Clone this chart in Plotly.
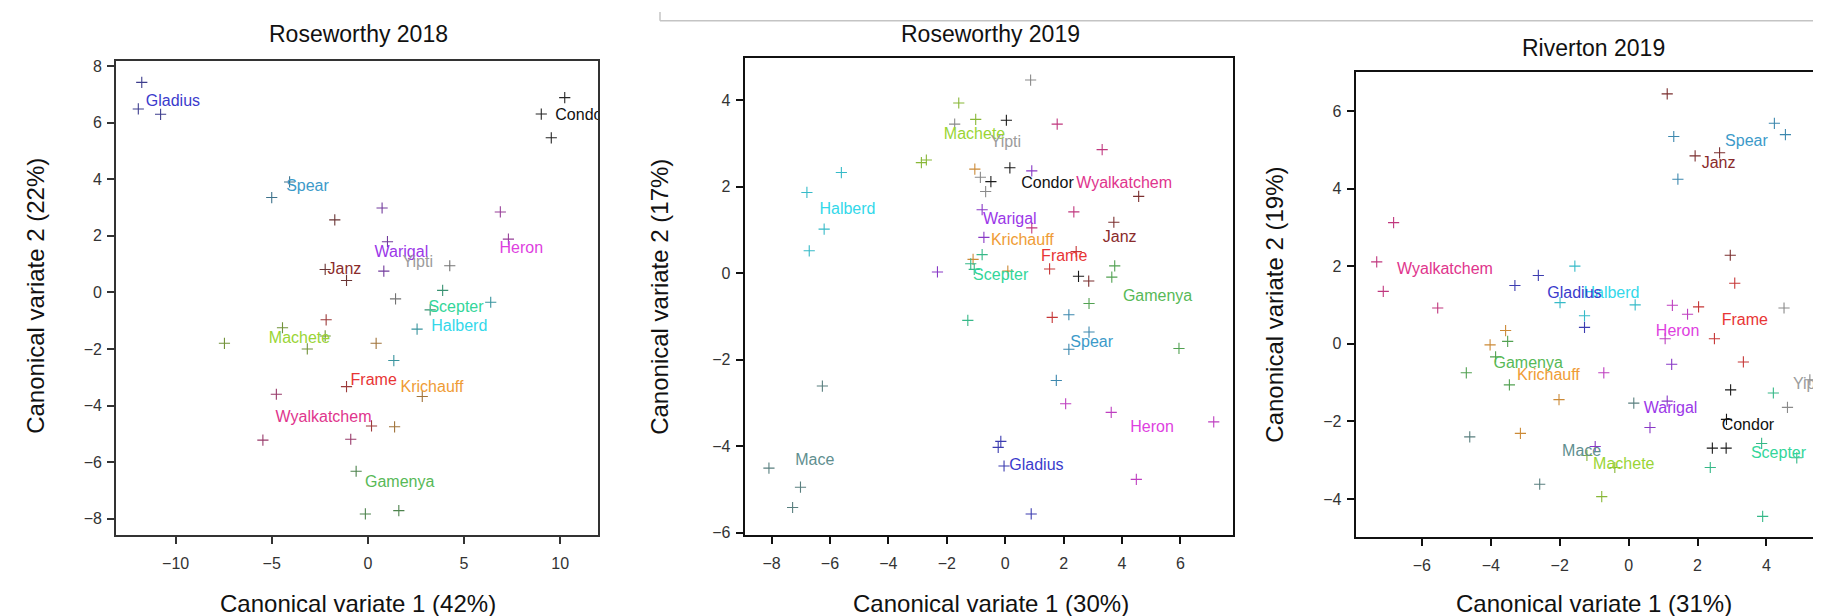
import plotly.graph_objects as go

W, H = 1821, 616
FONT = "Liberation Sans, Arial, Helvetica, sans-serif"

COLORS = {
    "Gladius": "#3b3bcc", "Condor": "#111111", "Spear": "#3c9ac9", "Heron": "#de3fe0",
    "Warigal": "#9b37e8", "Yipti": "#9c9c9c", "Janz": "#8a2b2b", "Scepter": "#33d69a",
    "Halberd": "#33d8ea", "Machete": "#9ad535", "Frame": "#e83535", "Krichauff": "#ef9c35",
    "Wyalkatchem": "#e0358d", "Gamenya": "#57b957", "Mace": "#5f8f8f",
}

# ---------------- Roseworthy 2018 ----------------
p1_x = [-11.76, -11.94, -10.78, 10.24, 9.02, 9.54, -5.00, -4.07, -1.72, 0.74, 6.89, 1.02, 7.31,
        -2.22, -1.11, 0.83, 4.26, 3.89, 1.44, 6.39, 3.24, -2.17, -4.44, 2.56, -2.22, -7.46, 0.43,
        -3.15, 1.35, -1.11, -4.76, 2.83, 0.19, 1.39, -5.46, -0.89, -0.61, -0.13, 1.61]
p1_y = [7.42, 6.48, 6.29, 6.88, 6.30, 5.46, 3.35, 3.90, 2.56, 2.98, 2.84, 1.79, 1.88,
        0.81, 0.42, 0.75, 0.94, 0.07, -0.23, -0.35, -0.62, -0.97, -1.25, -1.30, -1.54, -1.80, -1.80,
        -2.00, -2.41, -3.33, -3.60, -3.68, -4.72, -4.75, -5.22, -5.19, -6.32, -7.83, -7.71]
p1_g = ["Gladius", "Gladius", "Gladius", "Condor", "Condor", "Condor", "Spear", "Spear", "Janz",
        "Warigal", "Heron", "Warigal", "Heron", "Janz", "Janz", "Warigal", "Yipti", "Scepter",
        "Yipti", "Halberd", "Scepter", "Frame", "Machete", "Halberd", "Machete", "Machete",
        "Krichauff", "Machete", "Halberd", "Frame", "Wyalkatchem", "Krichauff", "Frame",
        "Krichauff", "Wyalkatchem", "Wyalkatchem", "Gamenya", "Gamenya", "Gamenya"]
p1_lab = ["Gladius", "Condor", "Spear", "Heron", "Warigal", "Yipti", "Janz", "Scepter", "Halberd",
          "Machete", "Frame", "Krichauff", "Wyalkatchem", "Gamenya"]
p1_lab_x = [-11.55, 9.75, -4.25, 6.85, 0.35, 1.80, -2.10, 3.15, 3.30, -5.15, -0.90, 1.70, -4.80, -0.15]
p1_lab_y = [6.73, 6.24, 3.71, 1.54, 1.39, 1.02, 0.79, -0.54, -1.23, -1.66, -3.14, -3.39, -4.43, -6.75]

# ---------------- Roseworthy 2019 ----------------
p2_x = [-0.15, -0.24, -0.04, 0.89, -6.26, -8.09, -7.01, -7.28, 2.07, 3.63, 7.14, 4.49,
        -5.61, -6.79, -6.20, -6.71, -1.59, -1.01, -2.87, -2.70, 0.87, -1.73, -0.85, -0.67,
        0.04, 0.16, -0.49, 2.51, 1.78, 3.32, 2.35, 0.91, 0.91, -0.79, -0.73, -2.32,
        4.57, 3.72, 2.86, 2.43, 1.52, 1.61, -1.04, -1.10, 0.09, -0.79, -1.18, -1.06, -1.28,
        3.75, 3.65, 2.87, 5.95, 2.18, 2.87, 2.18, 1.75]
p2_y = [-3.89, -4.03, -4.46, -5.57, -2.61, -4.51, -4.95, -5.42, -3.02, -3.22, -3.44, -4.77,
        2.33, 1.87, 1.02, 0.52, 3.94, 3.56, 2.56, 2.62, 4.47, 3.45, 2.22, 1.89,
        3.54, 2.44, 2.12, -0.07, 3.45, 2.86, 1.42, 1.05, 2.37, 1.47, 0.83, 0.03,
        1.78, 1.18, -0.18, 0.50, 0.10, -1.02, 2.41, 0.32, 0.05, 0.43, 0.22, 0.09, -1.09,
        0.17, -0.09, -0.70, -1.74, -0.96, -1.36, -1.76, -2.48]
p2_g = (["Gladius"] * 4 + ["Mace"] * 4 + ["Heron"] * 4 + ["Halberd"] * 4 + ["Machete"] * 4
        + ["Yipti"] * 4 + ["Condor"] * 4 + ["Wyalkatchem"] * 4 + ["Warigal"] * 4 + ["Janz"] * 3
        + ["Frame"] * 3 + ["Krichauff"] * 3 + ["Scepter"] * 4 + ["Gamenya"] * 4 + ["Spear"] * 4)
p2_lab = ["Machete", "Yipti", "Condor", "Wyalkatchem", "Halberd", "Warigal", "Krichauff", "Janz",
          "Frame", "Scepter", "Gamenya", "Spear", "Heron", "Mace", "Gladius"]
p2_lab_x = [-2.10, -0.50, 0.55, 2.43, -6.36, -0.76, -0.49, 3.34, 1.23, -1.10, 4.03, 2.23, 4.28, -7.19, 0.14]
p2_lab_y = [3.20, 3.01, 2.07, 2.07, 1.46, 1.23, 0.75, 0.82, 0.38, -0.06, -0.55, -1.61, -3.59, -4.35, -4.47]

# ---------------- Riverton 2019 ----------------
p3_x = [4.23, 4.55, 1.31, 1.43, 1.12, 1.93, 2.64, 2.95, -6.82, -7.31, -7.12, -5.54,
        3.08, 2.03, 2.49, 3.33, -2.62, -3.30, -1.28, -1.56, -1.99, 0.19, -1.28,
        1.27, 1.71, 1.06, -0.72, -3.57, -4.02, -2.02, -3.14, -3.51, -3.86, -4.71, -3.46,
        1.25, 1.12, 0.62, -0.97, -4.61, -2.58, 0.15, -1.21, -0.40, -0.78,
        2.96, 2.84, 2.43, 2.83, 4.20, 3.86, 4.88, 2.37, 3.89, 4.51, 5.26, 4.61]
p3_y = [5.68, 5.39, 5.34, 4.24, 6.44, 4.84, 4.92, 2.28, 3.12, 2.11, 1.35, 0.92,
        1.56, 0.95, 0.13, -0.47, 1.76, 1.50, 0.42, 2.00, 1.06, 1.00, 0.72,
        0.99, 0.76, 0.13, -0.75, 0.34, -0.03, -1.44, -2.31, 0.06, -0.34, -0.75, -1.06,
        -0.53, -1.48, -2.16, -2.65, -2.40, -3.62, -1.53, -2.88, -3.19, -3.94,
        -1.19, -1.95, -2.69, -2.69, -1.27, -2.57, -2.94, -3.19, -4.45, 0.92, -0.93, -1.64]
p3_g = (["Spear"] * 4 + ["Janz"] * 4 + ["Wyalkatchem"] * 4 + ["Frame"] * 4 + ["Gladius"] * 3
        + ["Halberd"] * 4 + ["Heron"] * 4 + ["Krichauff"] * 4 + ["Gamenya"] * 4 + ["Warigal"] * 4
        + ["Mace"] * 3 + ["Machete"] * 3 + ["Condor"] * 4 + ["Scepter"] * 5 + ["Yipti"] * 3)
p3_lab = ["Spear", "Janz", "Wyalkatchem", "Halberd", "Gladius", "Heron", "Frame", "Gamenya",
          "Krichauff", "Yipti", "Warigal", "Condor", "Scepter", "Mace", "Machete"]
p3_lab_x = [2.80, 2.12, -6.72, -1.31, -2.36, 0.79, 2.70, -3.92, -3.24, 4.77, 0.44, 2.70, 3.55, -1.93, -1.03]
p3_lab_y = [5.19, 4.63, 1.90, 1.27, 1.27, 0.31, 0.59, -0.51, -0.82, -1.06, -1.67, -2.12, -2.84, -2.78, -3.12]

titles = ["Roseworthy 2018", "Roseworthy 2019", "Riverton 2019"]
xtitles = ["Canonical variate 1 (42%)", "Canonical variate 1 (30%)", "Canonical variate 1 (31%)"]
ytitles = ["Canonical variate 2 (22%)", "Canonical variate 2 (17%)", "Canonical variate 2 (19%)"]
xticks = [[-10, -5, 0, 5, 10], [-8, -6, -4, -2, 0, 2, 4, 6], [-6, -4, -2, 0, 2, 4]]
yticks = [[-8, -6, -4, -2, 0, 2, 4, 6, 8], [-6, -4, -2, 0, 2, 4], [-4, -2, 0, 2, 4, 6]]
xranges = [[-13.1, 11.97], [-8.92, 7.80], [-7.92, 5.67]]
yranges = [[-8.59, 8.17], [-6.045, 4.977], [-4.98, 7.005]]

# ---------------- layout geometry (pixels) ----------------
boxes = [(108, 590, 50, 533), (736.7, 1225, 47, 532), (1347.7, 1816, 61, 534.5)]
title_pos = [(350, 22), (982.5, 22), (1585.8, 37)]
xtitle_pos = [(350, 602), (982.5, 602), (1585.8, 602)]
ytitle_pos = [(28, 289), (652, 290), (1267, 298)]
box_style = [("#333333", 1.6), ("#111111", 2.0), ("#111111", 2.0)]


def blend(hexc, other, t):
    a = [int(hexc[i:i + 2], 16) for i in (1, 3, 5)]
    b = [int(other[i:i + 2], 16) for i in (1, 3, 5)]
    c = [round(a[k] * (1 - t) + b[k] * t) for k in range(3)]
    return "#%02x%02x%02x" % tuple(c)


fig = go.Figure()
panels = [(p1_x, p1_y, p1_g, p1_lab, p1_lab_x, p1_lab_y),
          (p2_x, p2_y, p2_g, p2_lab, p2_lab_x, p2_lab_y),
          (p3_x, p3_y, p3_g, p3_lab, p3_lab_x, p3_lab_y)]

for i, (px, py, pg, lab, lx, ly) in enumerate(panels):
    sfx = "" if i == 0 else str(i + 1)
    mix = 0.45 if i == 0 else 0.2
    mcol = [blend(COLORS[g], "#404040", mix) for g in pg]
    fig.add_trace(go.Scatter(
        x=px, y=py, mode="markers", xaxis="x" + sfx, yaxis="y" + sfx, showlegend=False,
        marker=dict(symbol="cross-thin", size=8, line=dict(width=1.1, color=mcol)),
        hoverinfo="skip"))
    fig.add_trace(go.Scatter(
        x=lx, y=ly, mode="text", text=lab, textposition="middle right",
        xaxis="x" + sfx, yaxis="y" + sfx, showlegend=False, hoverinfo="skip",
        textfont=dict(family=FONT, size=16, color=[COLORS[n] for n in lab])))

layout = dict(width=W, height=H, margin=dict(l=0, r=0, t=0, b=0),
              paper_bgcolor="white", plot_bgcolor="white", showlegend=False)
annotations = []
for i in range(3):
    sfx = "" if i == 0 else str(i + 1)
    x0, x1, y0, y1 = boxes[i]
    lc, lw = box_style[i]
    common = dict(showline=True, mirror=True, linecolor=lc, linewidth=lw, ticks="outside",
                  ticklen=7, tickwidth=1.5, tickcolor=lc, showgrid=False, zeroline=False,
                  tickfont=dict(family=FONT, size=16, color="#333333"))
    layout["xaxis" + sfx] = dict(common, domain=[x0 / W, x1 / W], range=xranges[i],
                                 tickvals=xticks[i], anchor="y" + sfx, ticklabelstandoff=6)
    layout["yaxis" + sfx] = dict(common, domain=[1 - y1 / H, 1 - y0 / H], range=yranges[i],
                                 tickvals=yticks[i], anchor="x" + sfx, ticklabelstandoff=2)
    tx, ty = title_pos[i]
    annotations.append(dict(text=titles[i], x=tx / W, y=1 - ty / H, xref="paper", yref="paper",
                            xanchor="center", yanchor="middle", showarrow=False,
                            font=dict(family=FONT, size=23, color="#111111")))
    tx, ty = xtitle_pos[i]
    annotations.append(dict(text=xtitles[i], x=tx / W, y=1 - ty / H, xref="paper", yref="paper",
                            xanchor="center", yanchor="middle", showarrow=False,
                            font=dict(family=FONT, size=24, color="#111111")))
    tx, ty = ytitle_pos[i]
    annotations.append(dict(text=ytitles[i], x=tx / W, y=1 - ty / H, xref="paper", yref="paper",
                            xanchor="center", yanchor="middle", showarrow=False, textangle=-90,
                            font=dict(family=FONT, size=24, color="#111111")))
layout["annotations"] = annotations
layout["shapes"] = [
    dict(type="line", xref="paper", yref="paper", x0=652 / W, x1=1.0, y0=1 - 9 / H, y1=1 - 9 / H,
         line=dict(color="#c4c4c4", width=1.5)),
    dict(type="line", xref="paper", yref="paper", x0=652 / W, x1=652 / W, y0=1 - 9 / H, y1=1.0,
         line=dict(color="#c4c4c4", width=1.5)),
]
fig.update_layout(**layout)
fig.write_html("out.html")
